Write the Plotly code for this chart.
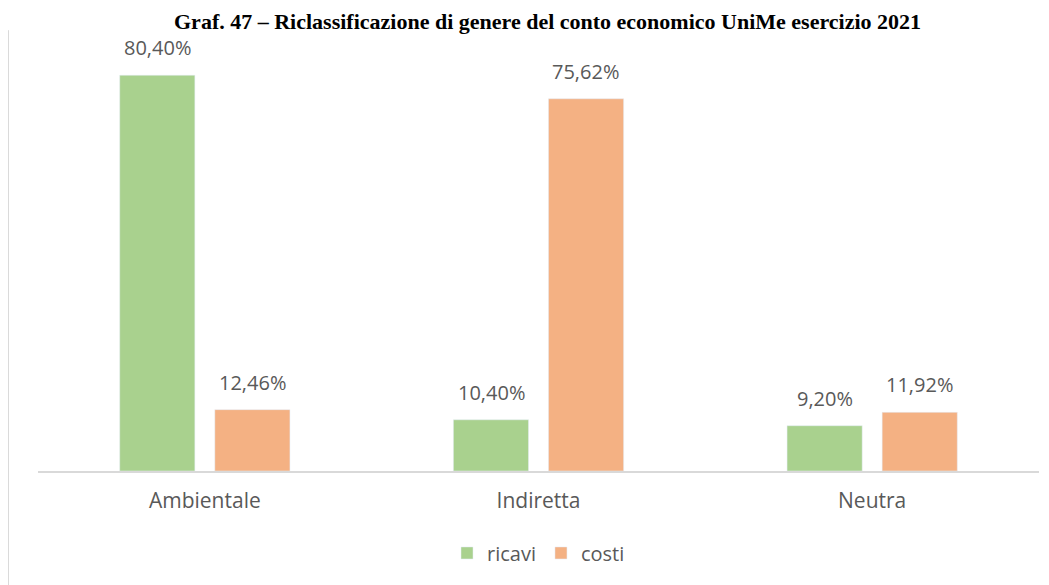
import plotly.graph_objects as go

categories = ["Ambientale", "Indiretta", "Neutra"]
ricavi = [80.40, 10.40, 9.20]
costi = [12.46, 75.62, 11.92]
series_names = ["ricavi", "costi"]
title_text = "Graf. 47 – Riclassificazione di genere del conto economico UniMe esercizio 2021"

GREEN = "#A9D18E"
ORANGE = "#F4B183"
GRAY = "#595959"
FONT = "Open Sans"

def fmt(v):
    return f"{v:.2f}".replace(".", ",") + "%"

fig = go.Figure()
fig.add_trace(go.Bar(name=series_names[0], x=categories, y=ricavi, marker_color=GREEN,
                     offsetgroup="a", hoverinfo="skip"))
fig.add_trace(go.Bar(name=series_names[1], x=categories, y=costi, marker_color=ORANGE,
                     offsetgroup="b", hoverinfo="skip"))

# data labels as annotations above bars
for i, c in enumerate(categories):
    for vals, shift in ((ricavi, -0.1423), (costi, 0.1423)):
        fig.add_annotation(x=i + shift, y=vals[i], xref="x", yref="y", text=fmt(vals[i]),
                           showarrow=False, yanchor="bottom", yshift=12,
                           font=dict(family=FONT, size=20, color=GRAY))

fig.add_annotation(text=f"<b>{title_text}</b>", xref="paper", yref="paper", x=0.509, y=1.0,
                   yshift=20, yanchor="top", showarrow=False, borderpad=0,
                   font=dict(family="Liberation Serif", size=22, color="black"))

fig.add_shape(type="line", xref="paper", yref="paper", x0=-0.0295, x1=-0.0295, y0=-0.3, y1=0.995,
              line=dict(color="#D9D9D9", width=1))

fig.update_layout(
    width=1049, height=585,
    margin=dict(l=30, r=18, t=20, b=122, autoexpand=False),
    paper_bgcolor="white", plot_bgcolor="white",
    barmode="group", bargap=0.43, bargroupgap=0.21,
    showlegend=True,
    legend=dict(orientation="h", x=0.5, xanchor="center", y=-0.185, yanchor="middle",
                font=dict(family=FONT, size=20, color=GRAY), itemwidth=30, traceorder="normal"),
    xaxis=dict(type="category", tickfont=dict(family=FONT, size=21, color=GRAY),
               showline=True, linecolor="#D9D9D9", linewidth=1.5, ticks="", ticklabelstandoff=10,
               showgrid=False, range=[-0.5, 2.5], automargin=False),
    yaxis=dict(range=[0, 90], showgrid=False, showticklabels=False, zeroline=False, ticks="",
               automargin=False),
)

fig.write_html("out.html")
